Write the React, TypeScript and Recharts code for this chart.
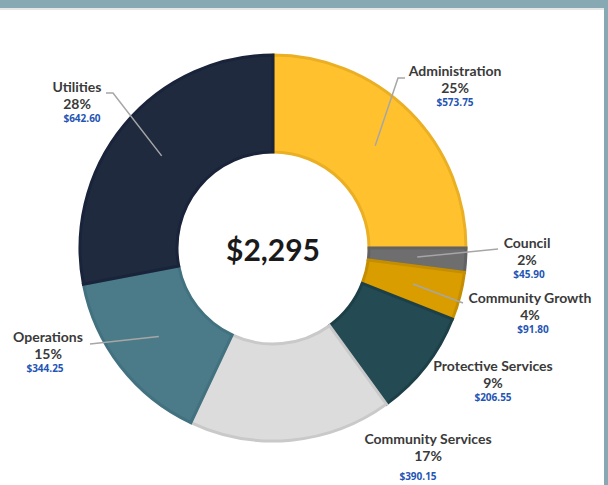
import React from 'react';
import { PieChart, Pie, Cell } from 'recharts';

const departments = [
  'Administration',
  'Council',
  'Community Growth',
  'Protective Services',
  'Community Services',
  'Operations',
  'Utilities',
];
const amounts = [573.75, 45.9, 91.8, 206.55, 390.15, 344.25, 642.6];
const totalLabel = '$2,295';

const fills = ['#FFC22E', '#6E6E6E', '#D99D00', '#244B53', '#DCDCDC', '#4B7B89', '#1F2A3F'];
const edges = ['#EBAF24', '#626262', '#C58E00', '#1D4048', '#C9C9C9', '#42717F', '#19233A'];

// label placement relative to pie centre (text centre of the name line)
const labelPos: Record<string, { x: number; y: number; vdx?: number; vdy?: number; line?: number[][] }> = {
  Administration: { x: 182, y: -178, line: [[125, -170], [132, -170]] },
  Council: { x: 254, y: -6, vdx: 2, line: [[225, 1]] },
  'Community Growth': { x: 257, y: 49, vdx: 3, line: [[190, 55]] },
  'Protective Services': { x: 220, y: 117 },
  'Community Services': { x: 155, y: 190, vdx: -10, vdy: 38 },
  Operations: { x: -225, y: 88, vdx: -3, line: [[-183, 96]] },
  Utilities: { x: -196, y: -162, vdx: 5, line: [[-160, -155], [-167, -155]] },
};

const CX = 273;
const CY = 248;
const RAD = Math.PI / 180;

const data = departments.map((name, i) => ({ name, value: amounts[i] }));
const total = amounts.reduce((a, b) => a + b, 0);

const renderLabel = (props: any) => {
  const { cx, cy, midAngle, innerRadius, outerRadius, name, value } = props;
  const pos = labelPos[name];
  if (!pos) return null;
  const r = (innerRadius + outerRadius) / 2;
  const sx = cx + r * Math.cos(-midAngle * RAD);
  const sy = cy + r * Math.sin(-midAngle * RAD);
  const tx = cx + pos.x;
  const ty = cy + pos.y;
  const pct = Math.round((value / total) * 100);
  let path = '';
  if (pos.line) {
    path = `M${sx},${sy}` + pos.line.map((p) => ` L${cx + p[0]},${cy + p[1]}`).join('');
  }
  return (
    <g>
      {path && <path d={path} stroke="#A6A6A6" strokeWidth={1.5} fill="none" />}
      <text x={tx} y={ty} textAnchor="middle" dominantBaseline="central" fontFamily="Lato" fontWeight={700} fontSize={14} fill="#3A3A3A">
        {name}
      </text>
      <text x={tx} y={ty + 17} textAnchor="middle" dominantBaseline="central" fontFamily="Lato" fontWeight={700} fontSize={14} fill="#3A3A3A">
        {pct}%
      </text>
      <text x={tx + (pos.vdx ?? 0)} y={ty + (pos.vdy ?? 32)} textAnchor="middle" dominantBaseline="central" fontFamily="Open Sans" fontWeight={700} fontSize={10} fill="#1F55B5">
        ${value.toFixed(2)}
      </text>
    </g>
  );
};

export default function App() {
  return (
    <div style={{ position: 'absolute', left: 0, top: 0, width: 608, height: 485, background: '#fff', overflow: 'hidden' }}>
      <PieChart width={608} height={485} margin={{ top: 0, right: 0, bottom: 0, left: 0 }}>
        <Pie
          data={data}
          dataKey="value"
          nameKey="name"
          cx={CX}
          cy={CY}
          innerRadius={96}
          outerRadius={193}
          startAngle={90}
          endAngle={-270}
          label={renderLabel}
          labelLine={false}
          isAnimationActive={false}
        >
          {data.map((d, i) => (
            <Cell key={d.name} fill={fills[i]} stroke={edges[i]} strokeWidth={3} />
          ))}
        </Pie>
        <text x={CX} y={CY + 1} textAnchor="middle" dominantBaseline="central" fontFamily="Lato" fontWeight={700} fontSize={30} fill="#1A1A1A">
          {totalLabel}
        </text>
      </PieChart>
      <div style={{ position: 'absolute', left: 0, top: 0, width: 608, height: 8, background: '#86A9B4' }} />
      <div style={{ position: 'absolute', left: 0, top: 8, width: 604, height: 2, background: '#E6E6E6' }} />
      <div style={{ position: 'absolute', left: 604, top: 0, width: 4, height: 485, background: '#86A9B4' }} />
    </div>
  );
}
